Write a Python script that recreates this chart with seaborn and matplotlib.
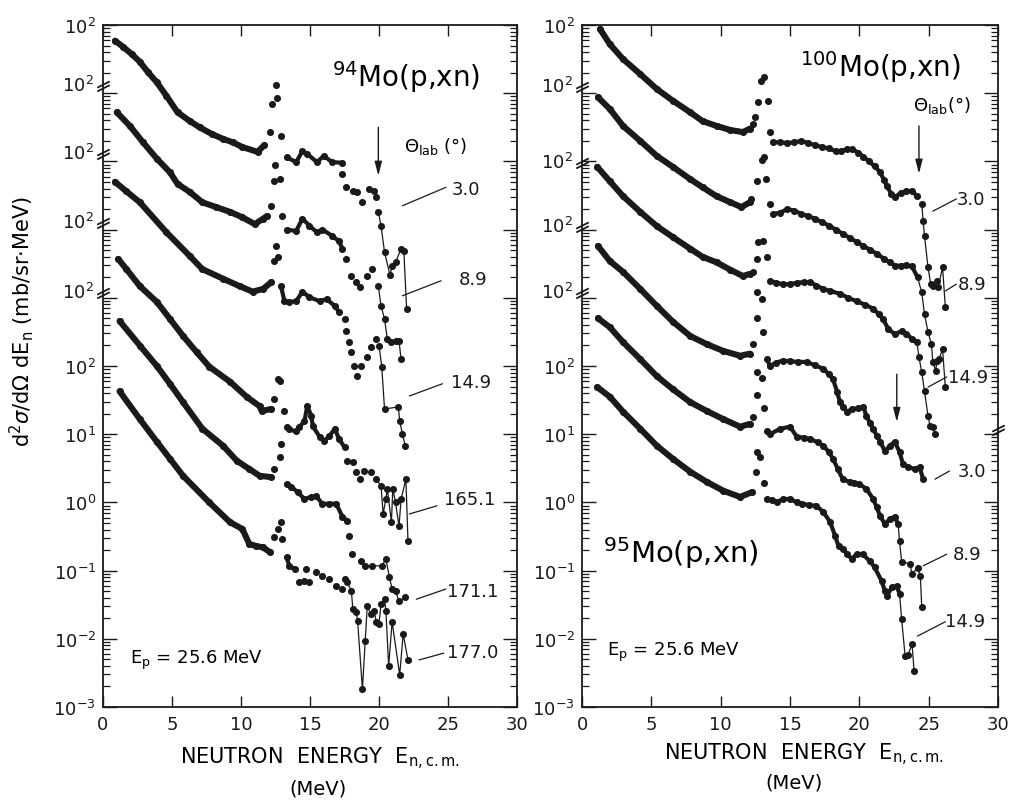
import numpy as np
import pandas as pd
import matplotlib
matplotlib.use("Agg")
import matplotlib.pyplot as plt
import seaborn as sns
from matplotlib.path import Path
from matplotlib.ticker import FixedLocator, FixedFormatter, LogLocator, NullFormatter

# ---------------- data (log10 of the plotted, offset cross sections) ----------------
mo94_angles = ["3.0", "8.9", "14.9", "165.1", "171.1", "177.0"]
mo94_energy = [
    [0.87, 1.45, 2.1, 2.67, 3.25, 3.9, 4.6, 5.4, 6.3, 7.0, 7.9, 8.7, 9.4, 10.1, 11.2, 11.7,
     12.1, 12.28, 12.5, 12.64, 12.9,
     13.3, 14.0, 14.45, 14.8, 15.5, 16.0, 16.6, 17.3, 17.35, 17.6, 18.1, 18.4, 18.8, 19.3, 19.65, 19.8,
     19.95, 20.15, 20.4, 20.8, 20.95, 21.2, 21.6, 21.8, 22.0],
    [1.0, 1.95, 2.9, 3.9, 4.85, 5.4, 6.3, 7.2, 8.2, 9.2, 10.1, 11.0, 11.6, 11.9,
     12.2, 12.36, 12.43, 12.8, 13.0,
     13.3, 14.0, 14.45, 14.95, 15.5, 15.9, 16.6, 17.1, 17.35, 17.6, 18.0, 18.35, 18.6, 19.1, 19.5,
     19.95, 20.15, 20.4, 20.6, 20.9, 21.2, 21.45, 21.6],
    [0.87, 1.7, 2.67, 4.6, 6.3, 7.2, 8.7, 9.9, 10.85, 11.6, 12.2,
     12.4, 12.55, 12.65,
     12.9, 13.15, 13.5, 14.0, 14.45, 14.95, 15.7, 16.2, 16.8, 17.1, 17.5, 17.6, 17.85, 18.0, 18.2, 18.4,
     18.7, 19.1, 19.4, 19.8,
     20.0, 20.2, 20.4, 21.4, 21.5, 21.7, 21.9],
    [1.1, 1.7, 2.67, 3.9, 4.85, 5.8, 6.8, 7.7, 9.2, 10.4, 11.35, 11.5, 12.2,
     12.4, 12.65, 12.8, 13.15,
     13.3, 13.5, 14.0, 14.2, 14.6, 14.8, 15.1, 15.2, 15.7, 16.0, 16.4, 16.8, 17.1, 17.5, 17.7, 18.1,
     18.35, 18.6, 18.9, 19.4,
     19.8, 20.15, 20.3, 20.5, 20.6, 20.9, 21.0, 21.2, 21.45, 21.6, 21.95, 22.1],
    [1.2, 2.67, 3.9, 4.85, 5.8, 7.2, 8.7, 9.7, 10.6, 11.35, 12.2,
     12.4, 12.8, 12.9,
     13.3, 13.65, 14.1, 14.6, 15.1, 15.45, 15.9, 16.4, 16.9, 17.35, 17.7, 17.85, 18.05, 18.7,
     18.95, 19.5, 20.2, 20.5, 20.75, 20.95, 21.2, 21.45, 21.9],
    [1.2, 2.67, 3.9, 4.85, 5.8, 7.7, 9.2, 10.1, 10.6, 11.1, 11.6, 12.1,
     12.4, 12.65, 12.9, 13.0,
     13.3, 13.5, 13.9, 14.2, 14.6, 14.7, 14.95, 15.45, 15.9, 16.4, 16.9, 17.3, 17.5,
     17.7, 18.0, 18.1, 18.35, 18.45, 18.8, 19.0, 19.15, 19.4, 19.65, 19.8, 20.0, 20.15, 20.4, 20.5,
     20.7, 20.95, 21.5, 21.75, 22.1],
]
mo94_logxs = [
    [6.77, 6.68, 6.57, 6.46, 6.31, 6.16, 5.96, 5.72, 5.59, 5.5, 5.4, 5.33, 5.28, 5.21, 5.14, 5.24,
     5.43, 5.84, 6.12, 5.93, 5.37,
     5.06, 4.99, 5.15, 5.11, 4.99, 5.08, 4.99, 4.98, 4.82, 4.62, 4.57, 4.55, 4.40, 4.6, 4.57, 4.48,
     4.26, 4.05, 3.67, 3.33, 3.47, 3.52, 3.72, 3.69, 2.84],
    [5.72, 5.52, 5.28, 5.04, 4.84, 4.67, 4.55, 4.4, 4.33, 4.26, 4.18, 4.08, 4.16, 4.2,
     4.35, 4.71, 4.95, 4.74, 4.2,
     4.0, 3.98, 4.16, 4.06, 3.96, 4.0, 3.91, 3.83, 3.72, 3.57, 3.32, 3.23, 3.16, 3.32, 3.42,
     3.17, 2.88, 2.69, 2.40, 2.35, 2.37, 2.37, 2.10],
    [4.70, 4.56, 4.40, 3.96, 3.61, 3.42, 3.28, 3.17, 3.09, 3.13, 3.23,
     3.54, 3.76, 3.6,
     3.17, 2.95, 2.94, 2.95, 3.09, 3.01, 2.95, 2.98, 2.88, 2.79, 2.69, 2.51, 2.35, 2.2, 2.0, 1.85,
     2.0, 2.13, 2.28, 2.4,
     2.3, 1.99, 1.37, 1.40, 1.19, 1.0, 0.83],
    [3.57, 3.42, 3.17, 2.94, 2.69, 2.44, 2.2, 1.99, 1.77, 1.55, 1.41, 1.34, 1.37,
     1.52, 1.81, 1.78, 1.34,
     1.1, 1.07, 1.04, 1.1, 1.19, 1.41, 1.27, 1.12, 0.96, 0.9, 0.97, 1.08, 0.93, 0.81, 0.61, 0.59,
     0.45, 0.34, 0.46, 0.45,
     0.34, 0.24, -0.17, 0.05, 0.2, -0.29, 0.2, 0.0, -0.35, 0.05, 0.34, -0.57],
    [2.66, 2.3, 2.0, 1.74, 1.47, 1.08, 0.83, 0.61, 0.49, 0.39, 0.37,
     0.49, 0.67, 0.86,
     0.27, 0.23, 0.15, 0.05, 0.08, 0.09, -0.02, -0.02, -0.02, -0.21, -0.27, -0.49, -0.76, -0.86,
     -0.93, -0.93, -0.93, -0.83, -1.09, -1.27, -1.3, -1.45, -1.39],
    [1.63, 1.22, 0.89, 0.64, 0.39, 0.0, -0.29, -0.39, -0.61, -0.64, -0.66, -0.73,
     -0.5, -0.39, -0.29, -0.54,
     -0.8, -0.93, -0.98, -1.17, -1.15, -0.98, -1.17, -1.02, -1.08, -1.12, -1.22, -1.27, -1.12,
     -1.17, -1.3, -1.56, -1.6, -1.74, -2.74, -2.03, -1.52, -1.64, -1.59, -1.75, -1.78, -1.49, -1.42, -1.59,
     -2.4, -1.75, -2.53, -1.93, -2.31],
]

mo_r_angles = ["3.0", "8.9", "14.9", "3.0", "8.9", "14.9"]   # 100Mo (first three), 95Mo (last three)
mo_r_energy = [
    [1.3, 2.0, 2.96, 4.2, 5.4, 6.55, 7.8, 8.7, 9.7, 10.7, 11.6, 12.1,
     12.35, 12.5, 12.7, 12.9, 13.1, 13.4, 13.55,
     13.8, 14.3, 14.8, 15.3, 15.8, 16.3, 16.8, 17.3, 17.8, 18.3, 18.7, 19.1, 19.5, 19.9, 20.3, 20.7,
     21.1, 21.5, 21.8, 22.0, 22.3, 22.6, 23.0, 23.4, 23.8,
     24.15, 24.5, 24.6, 24.7, 24.95, 25.15, 25.3, 25.6, 25.7, 26.0, 26.2],
    [1.15, 2.0, 2.96, 4.2, 5.4, 6.55, 7.8, 8.7, 9.7, 10.7, 11.5, 12.1,
     12.2, 12.6, 12.95, 13.1, 13.3, 13.55,
     13.8, 14.3, 14.8, 15.3, 15.8, 16.3, 16.8, 17.3, 17.8, 18.3, 18.8, 19.3, 19.8, 20.3, 20.8, 21.3,
     21.8, 22.2, 22.6, 23.0, 23.4, 23.8,
     24.2, 24.5, 24.7, 24.95, 25.2, 25.3, 25.5, 25.6, 25.75, 26.0, 26.2],
    [1.1, 2.0, 2.96, 4.2, 5.4, 6.55, 7.8, 8.7, 9.7, 10.7, 11.6, 12.1,
     12.35, 12.6, 12.7, 13.05, 13.35,
     13.55, 14.0, 14.5, 15.0, 15.5, 16.0, 16.45, 16.9, 17.4, 17.9, 18.6, 19.2, 19.8, 20.4, 21.0, 21.4,
     21.7, 22.1, 22.55, 23.05, 23.4, 23.8,
     24.15, 24.3, 24.5, 24.7, 24.95, 25.1, 25.3, 25.45],
    [1.15, 2.0, 2.96, 4.2, 5.4, 6.55, 7.8, 9.0, 10.2, 11.4, 12.1,
     12.3, 12.6, 12.65, 12.95, 13.05,
     13.35, 13.55, 14.0, 14.5, 15.0, 15.6, 16.2, 16.8, 17.4, 17.8, 18.1, 18.4, 18.6, 18.85, 19.1,
     19.5, 19.9, 20.3, 20.5, 20.75, 21.0, 21.25, 21.5, 21.85, 22.2, 22.55, 22.9, 23.15, 23.5, 24.0,
     24.35, 24.6],
    [1.15, 2.0, 2.96, 4.2, 5.4, 6.55, 7.8, 9.0, 10.2, 11.4, 12.1,
     12.3, 12.6, 12.65, 12.95, 13.1,
     13.35, 13.55, 14.3, 15.0, 15.5, 16.0, 16.45, 17.0, 17.4, 17.8, 18.1, 18.45, 18.8, 19.3, 19.65,
     20.0, 20.5, 21.0, 21.25, 21.5, 21.85, 22.2, 22.55, 22.8,
     22.9, 23.05, 23.65, 23.8, 24.2, 24.4, 24.5],
    [1.1, 2.0, 2.96, 4.2, 5.4, 6.55, 7.8, 9.0, 10.2, 11.4, 12.25,
     12.55, 12.65, 12.85, 13.1,
     13.35, 13.7, 14.05, 14.5, 15.0, 15.5, 15.9, 16.4, 16.9, 17.4, 17.9, 18.25, 18.5, 18.8, 19.1,
     19.45, 19.8, 20.25, 20.75, 21.1, 21.6, 21.85, 22.0, 22.35, 22.7, 22.9,
     23.05, 23.3, 23.5, 23.8, 23.95],
]
mo_r_logxs = [
    [6.94, 6.72, 6.50, 6.28, 6.06, 5.89, 5.72, 5.59, 5.52, 5.46, 5.43, 5.48,
     5.55, 5.65, 5.87, 6.18, 6.24, 5.89, 5.43,
     5.28, 5.28, 5.27, 5.28, 5.3, 5.27, 5.24, 5.21, 5.19, 5.15, 5.15, 5.18, 5.18, 5.13, 5.07, 5.0,
     4.93, 4.84, 4.72, 4.64, 4.52, 4.48, 4.54, 4.56, 4.57,
     4.49, 4.38, 4.13, 3.91, 3.45, 3.2, 3.17, 3.25, 3.16, 3.45, 2.87],
    [5.94, 5.77, 5.52, 5.3, 5.08, 4.92, 4.74, 4.62, 4.49, 4.4, 4.33, 4.40,
     4.45, 4.71, 5.02, 5.06, 4.74, 4.38,
     4.23, 4.25, 4.3, 4.28, 4.23, 4.2, 4.16, 4.11, 4.06, 4.0, 3.94, 3.88, 3.82, 3.76, 3.7, 3.64,
     3.57, 3.52, 3.47, 3.47, 3.48, 3.46,
     3.3, 3.08, 2.76, 2.5, 2.32, 2.06, 1.93, 2.07, 2.1, 2.25, 1.69],
    [4.92, 4.71, 4.49, 4.26, 4.05, 3.89, 3.72, 3.6, 3.52, 3.41, 3.32, 3.35,
     3.38, 3.57, 3.82, 3.83, 3.6,
     3.25, 3.22, 3.2, 3.2, 3.22, 3.23, 3.23, 3.18, 3.13, 3.1, 3.06, 3.0, 2.95, 2.9, 2.84, 2.76,
     2.69, 2.54, 2.47, 2.51, 2.47, 2.4,
     2.35, 2.13, 1.91, 1.63, 1.27, 1.12, 1.1, 1.0],
    [3.76, 3.54, 3.38, 3.13, 2.88, 2.65, 2.44, 2.32, 2.22, 2.15, 2.18,
     2.32, 2.70, 3.08, 2.98, 2.5,
     2.1, 2.0, 2.05, 2.08, 2.07, 2.06, 2.06, 2.01, 1.96, 1.88, 1.81, 1.62, 1.47, 1.4, 1.33,
     1.37, 1.38, 1.4, 1.27, 1.17, 1.08, 0.98, 0.89, 0.75, 0.83, 0.89, 0.74, 0.56, 0.52, 0.49,
     0.52, 0.34],
    [2.7, 2.57, 2.35, 2.1, 1.85, 1.66, 1.47, 1.34, 1.22, 1.11, 1.15,
     1.25, 1.57, 1.91, 1.82, 1.38,
     1.05, 1.0, 1.08, 1.11, 0.96, 0.95, 0.93, 0.88, 0.83, 0.74, 0.64, 0.49, 0.34, 0.3, 0.29,
     0.27, 0.2, 0.05, -0.07, -0.2, -0.32, -0.24, -0.21, -0.32,
     -0.57, -0.87, -0.9, -1.05, -0.96, -1.08, -1.53],
    [1.69, 1.55, 1.33, 1.08, 0.83, 0.64, 0.45, 0.3, 0.17, 0.08, 0.15,
     0.45, 0.74, 0.67, 0.28,
     0.05, 0.03, 0.0, 0.05, 0.05, 0.0, -0.02, -0.04, -0.05, -0.14, -0.29, -0.49, -0.64, -0.68, -0.75,
     -0.83, -0.76, -0.76, -0.86, -0.95, -1.15, -1.3, -1.37, -1.24, -1.23, -1.34,
     -1.71, -2.25, -2.24, -2.08, -2.47],
]

# segmentation: end of smooth pre-peak part, start/end of dense post-peak band, start of tail
mo94_pre_end = [11.7, 11.9, 12.2, 12.2, 12.2, 12.1]
mo94_post_start = [13.3, 13.3, 12.9, 13.3, 13.3, 13.3]
mo94_dense_end = [17.3, 17.35, 17.2, 17.6, 17.7, 13.95]
mo94_tail_from = [19.9, 19.9, 20.0, 19.8, 18.9, 17.7]
mo_r_pre_end = [12.1, 12.1, 12.1, 12.1, 12.1, 12.25]
mo_r_post_start = [13.8, 13.8, 13.55, 13.35, 13.35, 13.35]
mo_r_dense_end = [24.15, 24.2, 24.15, 24.6, 22.8, 22.9]
mo_r_tail_from = [24.5, 24.2, 24.15, None, 22.8, 22.9]

x_ticks = [0, 5, 10, 15, 20, 25, 30]
y_decades = list(range(-3, 8))
y_labels = [r"$10^{-3}$", r"$10^{-2}$", r"$10^{-1}$", r"$10^{0}$", r"$10^{1}$", r"$10^{2}$",
            "", "", "", "", r"$10^{2}$"]


def build_df(energies, logs, angles, pre_end, post_start, dense_end, tail_from):
    rows = []
    for i, (E, L) in enumerate(zip(energies, logs)):
        for e, l in zip(E, L):
            rows.append(dict(curve=i, angle=angles[i], E=e, xs=10.0 ** l,
                             is_pre=e <= pre_end[i],
                             is_dense=post_start[i] <= e <= dense_end[i],
                             is_tail=tail_from[i] is not None and e >= tail_from[i]))
    return pd.DataFrame(rows)


sns.set_theme(style="ticks")
plt.rcParams["font.family"] = ["DejaVu Sans"]
plt.rcParams["mathtext.fontset"] = "dejavusans"
for key in ("text.color", "axes.labelcolor", "xtick.color", "ytick.color", "axes.edgecolor"):
    plt.rcParams[key] = "black"

fig = plt.figure(figsize=(10.15, 8.03), dpi=100)
axL = fig.add_axes([103 / 1015, 1 - 708 / 803, 414 / 1015, 682 / 803])
axR = fig.add_axes([582 / 1015, 1 - 708 / 803, 416 / 1015, 682 / 803])

brk = Path([(-1, -0.35), (1, 0.65), (-1, -0.95), (1, 0.05)],
           [Path.MOVETO, Path.LINETO, Path.MOVETO, Path.LINETO])


def draw(ax, df):
    ax.set_yscale("log")
    sns.lineplot(data=df[df["is_pre"]], x="E", y="xs", units="curve", estimator=None, sort=False,
                 color="k", lw=4.4, ax=ax, legend=False, solid_capstyle="round")
    sns.lineplot(data=df[df["is_dense"]], x="E", y="xs", units="curve", estimator=None, sort=False,
                 color="k", lw=3.0, ax=ax, legend=False, solid_capstyle="round")
    sns.lineplot(data=df[df["is_tail"]], x="E", y="xs", units="curve", estimator=None, sort=False,
                 color="k", lw=0.9, ax=ax, legend=False)
    sns.scatterplot(data=df, x="E", y="xs", color="k", s=26, linewidth=0, ax=ax, legend=False)

    ax.set_xlim(0, 30)
    ax.set_ylim(1e-3, 1e7)
    ax.set_xlabel("")
    ax.set_ylabel("")
    ax.xaxis.set_major_locator(FixedLocator(x_ticks))
    ax.xaxis.set_major_formatter(FixedFormatter([str(t) for t in x_ticks]))
    ax.yaxis.set_major_locator(FixedLocator([10.0 ** k for k in y_decades]))
    ax.yaxis.set_major_formatter(FixedFormatter(y_labels))
    ax.yaxis.set_minor_locator(LogLocator(base=10, subs=np.arange(2, 10), numticks=100))
    ax.yaxis.set_minor_formatter(NullFormatter())
    ax.tick_params(which="both", direction="in", top=True, right=True, colors="k", labelsize=13)
    ax.tick_params(which="major", length=10, width=1.0, pad=5)
    ax.tick_params(which="minor", length=5, width=0.9)
    ax.tick_params(axis="x", which="major", length=8, pad=6)
    for sp in ax.spines.values():
        sp.set_color("k")
        sp.set_linewidth(1.3)


def breaks(ax, levels, labels=True, side=0.0):
    tr = ax.get_yaxis_transform()
    for lv in levels:
        ax.plot([side], [10.0 ** lv], marker=brk, ms=9, mew=1.3, color="k", ls="none",
                transform=tr, clip_on=False)
        if labels:
            ax.text(-0.022, 10.0 ** lv, r"$10^{2}$", transform=tr, ha="right", va="center",
                    fontsize=13, color="k")


def label_line(ax, e1, l1, e2, l2, txt, et, lt, fs=13):
    ax.plot([e1, e2], [10.0 ** l1, 10.0 ** l2], color="k", lw=0.9)
    ax.text(et, 10.0 ** lt, txt, ha="left", va="center", fontsize=fs, color="k")


def arrow(ax, e, l0, l1):
    ax.annotate("", xy=(e, 10.0 ** l1), xytext=(e, 10.0 ** l0),
                arrowprops=dict(arrowstyle="-|>,head_length=0.7,head_width=0.18",
                                color="k", lw=1.0, shrinkA=0, shrinkB=0))


dfL = build_df(mo94_energy, mo94_logxs, mo94_angles, mo94_pre_end, mo94_post_start,
               mo94_dense_end, mo94_tail_from)
dfR = build_df(mo_r_energy, mo_r_logxs, mo_r_angles, mo_r_pre_end, mo_r_post_start,
               mo_r_dense_end, mo_r_tail_from)
draw(axL, dfL)
draw(axR, dfR)

# broken-axis markers and repeated labels
breaks(axL, [3.08, 4.11, 5.12, 6.12])
breaks(axR, [3.08, 4.05, 4.99, 6.1])
breaks(axR, [1.08], labels=False, side=1.0)

# left panel annotations
axL.text(16.6, 10 ** 6.25, r"$^{94}$Mo(p,xn)", fontsize=20, ha="left", va="center")
axL.text(21.8, 10 ** 5.23, r"$\Theta_{\rm lab}$ (°)", fontsize=13, ha="left", va="center")
arrow(axL, 19.95, 5.50, 4.79)
label_line(axL, 21.7, 4.35, 24.85, 4.62, mo94_angles[0], 25.3, 4.60)
label_line(axL, 21.7, 3.03, 24.5, 3.25, mo94_angles[1], 25.8, 3.28)
label_line(axL, 22.2, 1.56, 24.6, 1.74, mo94_angles[2], 25.2, 1.77)
label_line(axL, 22.2, -0.17, 24.2, -0.05, mo94_angles[3], 24.7, 0.05)
label_line(axL, 22.7, -1.42, 24.85, -1.27, mo94_angles[4], 24.9, -1.30)
label_line(axL, 22.9, -2.31, 24.7, -2.21, mo94_angles[5], 24.9, -2.19)
axL.text(1.95, 10 ** -2.3, r"E$_{\rm p}$ = 25.6 MeV", fontsize=13, ha="left", va="center")

# right panel annotations
axR.text(15.7, 10 ** 6.4, r"$^{100}$Mo(p,xn)", fontsize=20, ha="left", va="center")
axR.text(23.9, 10 ** 5.84, r"$\Theta_{\rm lab}$(°)", fontsize=13, ha="left", va="center")
arrow(axR, 24.3, 5.52, 4.82)
arrow(axR, 22.7, 1.88, 1.18)
label_line(axR, 25.3, 4.27, 27.0, 4.45, mo_r_angles[0], 27.05, 4.45)
label_line(axR, 26.2, 3.10, 27.0, 3.20, mo_r_angles[1], 27.1, 3.20)
label_line(axR, 24.95, 1.69, 26.3, 1.84, mo_r_angles[2], 26.4, 1.84)
label_line(axR, 25.45, 0.34, 26.5, 0.46, mo_r_angles[3], 27.1, 0.46)
label_line(axR, 24.6, -0.93, 26.3, -0.76, mo_r_angles[4], 26.75, -0.76)
label_line(axR, 24.2, -1.96, 26.2, -1.75, mo_r_angles[5], 26.2, -1.74)
axR.text(1.5, 10 ** -0.73, r"$^{95}$Mo(p,xn)", fontsize=21, ha="left", va="center")
axR.text(1.8, 10 ** -2.19, r"E$_{\rm p}$ = 25.6 MeV", fontsize=13, ha="left", va="center")

# axis titles
axL.text(0.524, -0.074, r"NEUTRON  ENERGY  E$_{\rm n,c.m.}$", transform=axL.transAxes,
         ha="center", va="center", fontsize=15)
axL.text(0.52, -0.119, "(MeV)", transform=axL.transAxes, ha="center", va="center", fontsize=14)
axR.text(0.534, -0.069, r"NEUTRON  ENERGY  E$_{\rm n,c.m.}$", transform=axR.transAxes,
         ha="center", va="center", fontsize=15)
axR.text(0.51, -0.11, "(MeV)", transform=axR.transAxes, ha="center", va="center", fontsize=14)
fig.text(0.021, 0.60, r"d$^2\sigma$/d$\Omega$ dE$_{\rm n}$ (mb/sr$\cdot$MeV)", rotation=90,
         ha="center", va="center", fontsize=15)

fig.savefig("out.png", dpi=100, facecolor="white")
